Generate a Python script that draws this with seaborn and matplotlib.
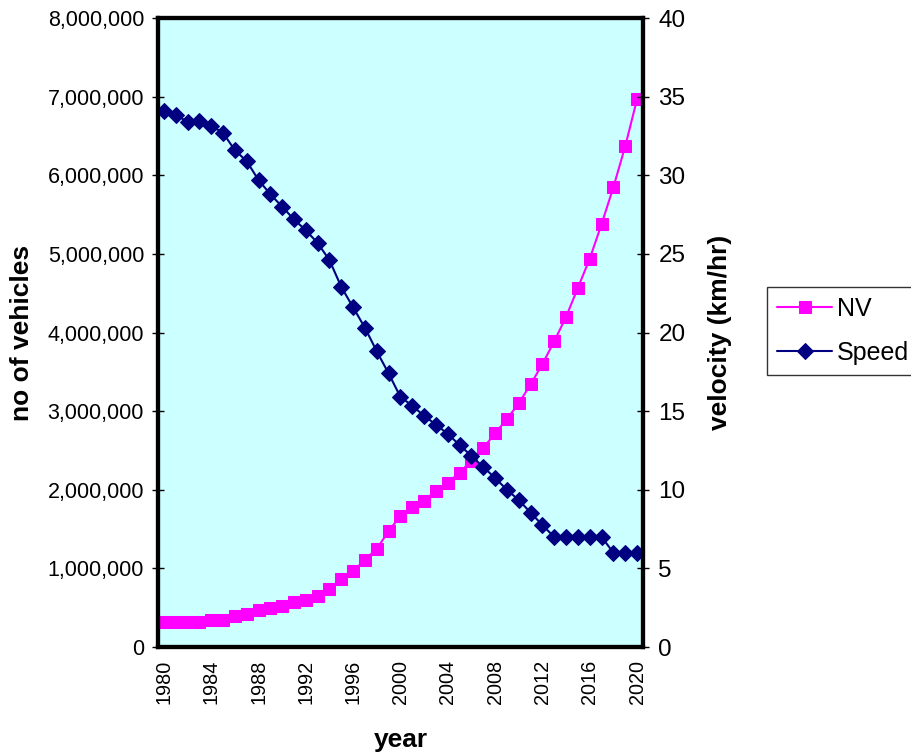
import numpy as np
import pandas as pd
import matplotlib
matplotlib.use("Agg")
import matplotlib.pyplot as plt
import seaborn as sns
from matplotlib.ticker import FuncFormatter, MultipleLocator

years = list(range(1980, 2021))
nv = [320000, 320000, 320000, 320000, 350000, 350000, 400000, 425000, 475000, 500000,
      525000, 575000, 600000, 655000, 735000, 860000, 965000, 1110000, 1250000, 1475000,
      1670000, 1785000, 1860000, 1990000, 2090000, 2220000, 2370000, 2530000, 2720000, 2900000,
      3100000, 3340000, 3600000, 3890000, 4200000, 4570000, 4940000, 5380000, 5850000, 6370000, 6970000]
speed = [34.1, 33.85, 33.4, 33.45, 33.15, 32.7, 31.6, 30.9, 29.7, 28.8,
         28.0, 27.2, 26.5, 25.7, 24.6, 22.9, 21.6, 20.3, 18.8, 17.4,
         15.9, 15.35, 14.7, 14.15, 13.55, 12.85, 12.15, 11.45, 10.75, 10.0,
         9.35, 8.55, 7.75, 7.0, 7.0, 7.0, 7.0, 7.0, 6.0, 6.0, 6.0]
year_labels = list(range(1980, 2021, 4))

df = pd.DataFrame({"year": years, "NV": nv, "Speed": speed})

sns.set_style("white")
plt.rcParams['font.family'] = ['Liberation Sans', 'DejaVu Sans']
plt.rcParams.update({"text.color": "black", "axes.labelcolor": "black",
                     "xtick.color": "black", "ytick.color": "black"})

fig = plt.figure(figsize=(9.11, 7.55), dpi=100)
ax = fig.add_axes([0.1734, 0.143, 0.5324, 0.833])
ax.set_facecolor("#CCFFFF")
ax2 = ax.twinx()

sns.lineplot(data=df, x="year", y="NV", ax=ax, color="#FF00FF", marker="s",
             markersize=8.5, markeredgecolor="#FF00FF", linewidth=1.5, label="NV", legend=False)
sns.lineplot(data=df, x="year", y="Speed", ax=ax2, color="#000080", marker="D",
             markersize=7.8, markeredgecolor="#000080", linewidth=1.5, label="Speed", legend=False)

ax.set_xlim(1979.5, 2020.5)
ax.set_ylim(0, 8000000)
ax2.set_ylim(0, 40)
ax.yaxis.set_major_locator(MultipleLocator(1000000))
ax.yaxis.set_major_formatter(FuncFormatter(lambda v, p: f"{int(v):,}"))
ax2.yaxis.set_major_locator(MultipleLocator(5))

ax.set_xticks(year_labels)
ax.set_xticklabels([str(y) for y in year_labels], rotation=90)
ax.set_xticks(np.arange(1979.5, 2021, 1), minor=True)
ax.tick_params(axis="x", which="major", length=0, labelsize=14.3, pad=9, labelcolor="black")
ax.tick_params(axis="x", which="minor", length=6, width=1, direction="out", color="black")
ax.tick_params(axis="y", which="major", length=8, width=1, direction="inout", labelsize=15.5,
               left=True, pad=6, color="black", labelcolor="black")
ax2.tick_params(axis="y", which="major", length=8, width=1, direction="inout", labelsize=17.5,
                right=True, pad=7, color="black", labelcolor="black")

for a in (ax, ax2):
    for s in a.spines.values():
        s.set_linewidth(3)
        s.set_color("black")

ax.set_xlabel("year", fontsize=19, fontweight="bold", color="black")
ax.set_ylabel("no of vehicles", fontsize=19, fontweight="bold", color="black")
ax2.set_ylabel("velocity (km/hr)", fontsize=19, fontweight="bold", color="black")
for lab in (ax.xaxis.label, ax.yaxis.label, ax2.yaxis.label):
    lab.set_ha("center")
    lab.set_va("center")
ax.xaxis.set_label_coords(0.5, (647 - 740) / 629)
ax.yaxis.set_label_coords((22 - 158) / 485, 0.5)
ax2.yaxis.set_label_coords((720 - 158) / 485, 0.5)

h1, l1 = ax.get_legend_handles_labels()
h2, l2 = ax2.get_legend_handles_labels()
leg = fig.legend(h1 + h2, l1 + l2, loc="upper left", bbox_to_anchor=(767 / 911, 1 - 287 / 755),
                 frameon=True, fancybox=False, edgecolor="black", fontsize=18,
                 handlelength=2.2, borderpad=0.4, labelspacing=0.8, handletextpad=0.2,
                 borderaxespad=0)
leg.get_frame().set_linewidth(1)
for t in leg.get_texts():
    t.set_color("black")

fig.savefig("out.png", dpi=100)
